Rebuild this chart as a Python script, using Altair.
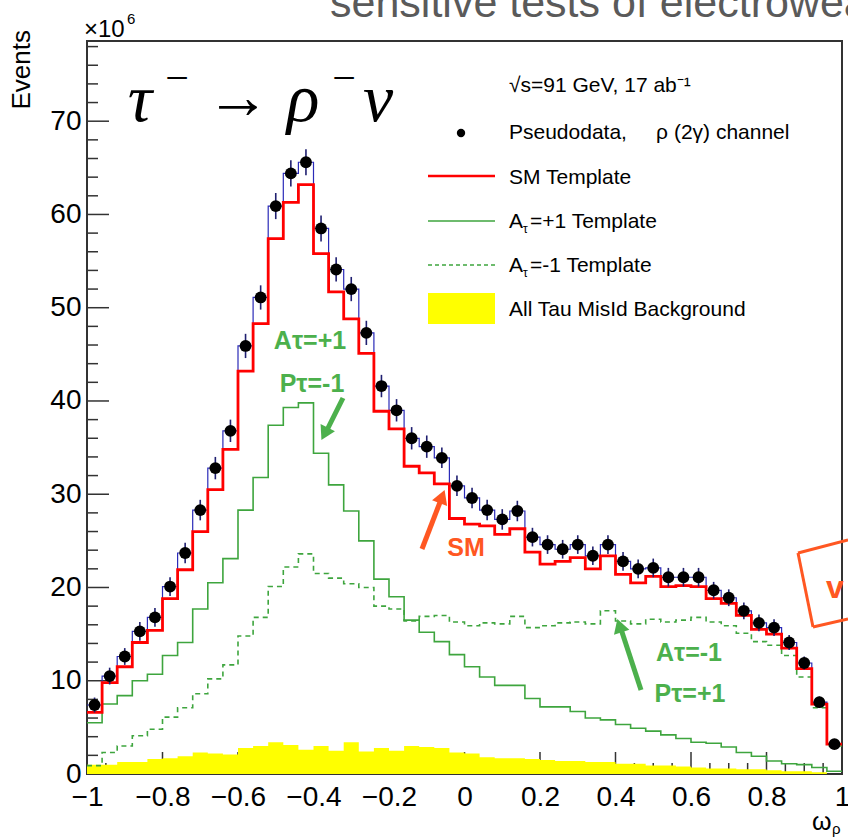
import altair as alt
import pandas as pd

# ---------------- data (values in units of 10^6 events) ----------------
X_MIN, X_MAX = -1.0, 1.0
BIN_W = 0.04
N_BINS = 50
Y_MAX = 78.6

pseudodata = [7.4, 10.5, 12.6, 15.3, 16.8, 20.1, 23.7, 28.3, 32.8, 36.8,
              45.9, 51.1, 60.9, 64.4, 65.6, 58.5, 54.1, 52.0, 47.3, 41.6,
              39.0, 36.0, 35.1, 33.9, 30.9, 29.6, 28.3, 27.3, 28.2, 25.4,
              24.6, 24.1, 24.6, 23.4, 24.6, 22.8, 22.0, 22.1, 21.1, 21.1,
              21.1, 19.7, 18.9, 17.5, 16.2, 15.7, 14.1, 11.9, 7.7, 3.2]
data_err = [0.8, 0.9, 0.9, 1.0, 1.0, 1.0, 1.1, 1.1, 1.2, 1.2,
            1.3, 1.3, 1.4, 1.4, 1.4, 1.4, 1.3, 1.3, 1.3, 1.2,
            1.2, 1.2, 1.2, 1.1, 1.1, 1.1, 1.1, 1.1, 1.1, 1.0,
            1.0, 1.0, 1.0, 1.0, 1.0, 1.0, 1.0, 1.0, 1.0, 1.0,
            1.0, 0.9, 0.9, 0.9, 0.9, 0.9, 0.8, 0.7, 0.6, 0.4]
sm_template = [6.6, 9.8, 11.5, 14.1, 15.4, 18.8, 21.9, 26.0, 30.5, 34.8,
               43.2, 48.3, 57.4, 61.3, 63.2, 55.8, 51.7, 48.8, 45.1, 38.9,
               37.0, 33.0, 32.3, 31.1, 27.4, 26.8, 26.6, 25.7, 26.3, 23.8,
               22.5, 22.8, 23.2, 22.0, 23.4, 21.4, 20.5, 21.2, 20.1, 20.2,
               20.1, 18.8, 18.3, 17.0, 15.5, 15.0, 13.5, 11.3, 7.5, 3.2]
a_plus_template = [5.5, 7.5, 8.4, 10.0, 10.7, 12.7, 14.1, 17.7, 20.5, 23.1,
                   28.3, 31.8, 37.4, 39.3, 39.8, 34.4, 31.0, 28.2, 25.0, 20.9,
                   19.0, 16.5, 15.2, 14.2, 12.8, 11.5, 10.4, 9.5, 9.5, 8.1,
                   7.2, 7.2, 6.7, 6.0, 5.8, 5.3, 4.9, 4.6, 4.2, 3.8,
                   3.4, 3.3, 2.9, 2.3, 1.9, 1.4, 1.1, 1.0, 0.7, 0.3]
a_minus_template = [0.9, 2.3, 3.0, 4.1, 4.8, 6.1, 7.1, 8.6, 10.2, 11.7,
                    14.8, 16.8, 20.1, 22.2, 23.6, 21.5, 21.0, 20.4, 20.0, 18.0,
                    17.7, 16.4, 16.9, 17.0, 16.3, 15.9, 16.2, 16.1, 16.9, 15.7,
                    15.9, 16.2, 16.3, 16.1, 17.5, 16.4, 16.1, 16.6, 16.3, 16.5,
                    16.8, 16.3, 15.9, 15.1, 14.2, 13.8, 12.7, 10.4, 7.1, 3.0]
misid_bkg = [1.0, 1.0, 1.3, 1.3, 1.6, 1.7, 1.9, 2.3, 2.2, 2.1,
             2.8, 3.0, 3.4, 3.1, 2.6, 3.0, 2.5, 3.4, 2.4, 2.8,
             2.5, 3.0, 2.9, 2.8, 2.3, 2.2, 1.8, 1.7, 1.7, 1.6,
             1.5, 1.4, 1.4, 1.3, 1.3, 1.1, 1.1, 0.9, 0.9, 0.8,
             0.7, 0.6, 0.6, 0.5, 0.5, 0.4, 0.3, 0.3, 0.2, 0.0]

x_major = [-1, -0.8, -0.6, -0.4, -0.2, 0, 0.2, 0.4, 0.6, 0.8, 1]
x_minor = [-0.95, -0.9, -0.85, -0.75, -0.7, -0.65, -0.55, -0.5, -0.45,
           -0.35, -0.3, -0.25, -0.15, -0.1, -0.05, 0.05, 0.1, 0.15,
           0.25, 0.3, 0.35, 0.45, 0.5, 0.55, 0.65, 0.7, 0.75, 0.85, 0.9, 0.95]
y_major = [0, 10, 20, 30, 40, 50, 60, 70]
y_minor = [2, 4, 6, 8, 12, 14, 16, 18, 22, 24, 26, 28, 32, 34, 36, 38,
           42, 44, 46, 48, 52, 54, 56, 58, 62, 64, 66, 68, 72, 74, 76, 78]

# ---------------- layout ----------------
L, T = 87, 41          # plot origin in the page
W, H = 755, 733        # plot area
SANS = "Liberation Sans"
SERIF = "Liberation Serif"
FRAME = "#333333"
GREEN = "#3ea53e"
ANN_GREEN = "#4cb04c"
ORANGE = "#ff5722"

left_edges = [round(X_MIN + i * BIN_W, 2) for i in range(N_BINS)]
centers = [round(e + BIN_W / 2, 2) for e in left_edges]

xs = alt.Scale(domain=[X_MIN, X_MAX], nice=False, zero=False)
ys = alt.Scale(domain=[0, Y_MAX], nice=False, zero=False)

X_AXIS = alt.Axis(values=x_major, format="~g", ticks=False, domain=False, grid=False,
                  labelFont=SANS, labelFontSize=28, labelColor="black", labelPadding=9,
                  labelFlush=False, labelOverlap=False, title=None)
Y_AXIS = alt.Axis(values=y_major, format="d", ticks=False, domain=False, grid=False,
                  labelFont=SANS, labelFontSize=28, labelColor="black", labelPadding=6,
                  labelFlush=False, labelOverlap=False, title=None)


def X(field):
    return alt.X(field, scale=xs, axis=X_AXIS)


def Y(field):
    return alt.Y(field, scale=ys, axis=Y_AXIS)


def step_df(vals):
    rows = [{"x": e, "v": v} for e, v in zip(left_edges, vals)]
    rows.append({"x": X_MAX, "v": vals[-1]})
    return pd.DataFrame(rows)


def step_line(vals, color, width, dash=None):
    mk = dict(interpolate="step-after", color=color, strokeWidth=width)
    if dash:
        mk["strokeDash"] = dash
    return alt.Chart(step_df(vals)).mark_line(**mk).encode(x=X("x:Q"), y=Y("v:Q"))


one = pd.DataFrame({"a": [0]})


def txt(s, x, y, size, color="black", font=SANS, weight="normal", style="normal",
        align="left", baseline="alphabetic", angle=None):
    mk = dict(text=s, fontSize=size, color=color, font=font, fontWeight=weight,
              fontStyle=style, align=align, baseline=baseline)
    if angle is not None:
        mk["angle"] = angle
    return alt.Chart(one).mark_text(**mk).encode(x=alt.value(x - L), y=alt.value(y - T))


def seg(x1, y1, x2, y2, color, width, dash=None):
    mk = dict(color=color, strokeWidth=width)
    if dash:
        mk["strokeDash"] = dash
    return alt.Chart(one).mark_rule(**mk).encode(
        x=alt.value(x1 - L), y=alt.value(y1 - T), x2=alt.value(x2 - L), y2=alt.value(y2 - T))


def head(x, y, angle, color, size=260):
    return alt.Chart(one).mark_point(shape="triangle-up", filled=True, color=color, opacity=1,
                                     size=size, angle=angle).encode(
        x=alt.value(x - L), y=alt.value(y - T))


# ---------------- ticks (drawn inside the frame) ----------------
x_ticks_major = alt.Chart(pd.DataFrame({"t": x_major})).mark_rule(color=FRAME, strokeWidth=1.5).encode(
    x=X("t:Q"), y=alt.value(H), y2=alt.value(H - 22))
x_ticks_minor = alt.Chart(pd.DataFrame({"t": x_minor})).mark_rule(color=FRAME, strokeWidth=1.5).encode(
    x=X("t:Q"), y=alt.value(H), y2=alt.value(H - 11))
y_ticks_major = alt.Chart(pd.DataFrame({"t": y_major})).mark_rule(color=FRAME, strokeWidth=1.5).encode(
    y=Y("t:Q"), x=alt.value(0), x2=alt.value(22))
y_ticks_minor = alt.Chart(pd.DataFrame({"t": y_minor})).mark_rule(color=FRAME, strokeWidth=1.5).encode(
    y=Y("t:Q"), x=alt.value(0), x2=alt.value(11))

# ---------------- histograms ----------------
bkg_area = alt.Chart(step_df(misid_bkg)).mark_area(interpolate="step-after", color="#ffff00", opacity=1).encode(
    x=X("x:Q"), y=Y("v:Q"))

green_solid = step_line(a_plus_template, GREEN, 1.6)
green_dash = step_line(a_minus_template, GREEN, 1.6, dash=[5, 4])
blue_line = step_line(pseudodata, "#2b2bb8", 1.2)
red_line = step_line(sm_template, "#ff0000", 2.8)

pts_df = pd.DataFrame({"x": centers, "v": pseudodata, "e": data_err})
pts_df["lo"] = pts_df["v"] - pts_df["e"]
pts_df["hi"] = pts_df["v"] + pts_df["e"]
err_bars = alt.Chart(pts_df).mark_rule(color="#1f1f70", strokeWidth=1.6).encode(
    x=X("x:Q"), y=Y("lo:Q"), y2="hi:Q")
points = alt.Chart(pts_df).mark_circle(color="black", size=140, opacity=1).encode(
    x=X("x:Q"), y=Y("v:Q"))

# ---------------- texts ----------------
texts = [
    # page text clipped at the top
    txt("sensitive tests of electroweak", 330, 17, 43, color="#5a5a5a"),
    # axis titles / exponent
    txt("Events", 22, 30, 26, align="right", baseline="middle", angle=270),
    txt("\u00d710", 84, 37, 24),
    txt("6", 127, 24, 15),
    txt("\u03c9", 812, 830, 25),
    txt("\u03c1", 832, 834, 15),
    # process label
    txt("\u03c4", 140, 121, 68, font=SERIF, style="italic", align="center"),
    txt("\u2212", 177, 92, 42, font=SERIF, align="center"),
    txt("\u2192", 238, 118, 64, font=SERIF, align="center"),
    txt("\u03c1", 303, 121, 68, font=SERIF, style="italic", align="center"),
    txt("\u2212", 344, 92, 42, font=SERIF, align="center"),
    txt("\u03bd", 378, 121, 68, font=SERIF, style="italic", align="center"),
    # legend
    txt("\u221as=91 GeV, 17 ab\u207b\u00b9", 509, 86, 21, baseline="middle"),
    txt("Pseudodata,\u00a0\u00a0\u00a0\u00a0 \u03c1 (2\u03b3) channel", 509, 133, 21, baseline="middle"),
    txt("SM Template", 509, 178, 21, baseline="middle"),
    txt("A", 509, 222, 21, baseline="middle"),
    txt("\u03c4", 523, 229, 12, baseline="middle"),
    txt("=+1 Template", 530, 222, 21, baseline="middle"),
    txt("A", 509, 266, 21, baseline="middle"),
    txt("\u03c4", 523, 273, 12, baseline="middle"),
    txt("=-1 Template", 530, 266, 21, baseline="middle"),
    txt("All Tau MisId Background", 509, 310, 21, baseline="middle"),
    # annotations
    txt("A\u03c4=+1", 310, 341, 25, color=ANN_GREEN, weight="bold", align="center", baseline="middle"),
    txt("P\u03c4=-1", 312, 384, 25, color=ANN_GREEN, weight="bold", align="center", baseline="middle"),
    txt("SM", 466, 548, 25, color=ORANGE, weight="bold", align="center", baseline="middle"),
    txt("A\u03c4=-1", 689, 653, 25, color=ANN_GREEN, weight="bold", align="center", baseline="middle"),
    txt("P\u03c4=+1", 690, 694, 25, color=ANN_GREEN, weight="bold", align="center", baseline="middle"),
    txt("v", 826, 598, 32, color=ORANGE, weight="bold"),
]

shapes = [
    # legend samples
    alt.Chart(one).mark_point(shape="circle", filled=True, color="black", opacity=1, size=70).encode(
        x=alt.value(461 - L), y=alt.value(133 - T)),
    seg(428, 176, 495, 176, "#ff0000", 2.5),
    seg(428, 221, 495, 221, GREEN, 1.6),
    seg(428, 265, 495, 265, GREEN, 1.6, dash=[4, 3]),
    alt.Chart(one).mark_rect(color="#ffff00").encode(
        x=alt.value(428 - L), x2=alt.value(495 - L), y=alt.value(293 - T), y2=alt.value(324 - T)),
    # arrows
    seg(343, 398, 325, 434, ANN_GREEN, 5),
    head(324.6, 433.9, 207, ANN_GREEN),
    seg(422, 549, 442, 497, ORANGE, 5),
    head(442.1, 496.5, 21, ORANGE),
    seg(641, 690, 620, 626, ANN_GREEN, 5),
    head(619.5, 625.6, 342, ANN_GREEN),
    # hand-drawn box at the right edge
    seg(798, 553, 848, 540, ORANGE, 3),
    seg(798, 553, 813, 627, ORANGE, 3),
    seg(813, 627, 848, 619, ORANGE, 3),
]

chart = alt.layer(
    x_ticks_major, x_ticks_minor, y_ticks_major, y_ticks_minor,
    bkg_area, green_solid, green_dash, blue_line, red_line, err_bars, points,
    *shapes, *texts
).properties(
    width=W, height=H,
    autosize=alt.AutoSizeParams(type="none"),
    padding={"left": L, "top": T, "right": 848 - L - W, "bottom": 838 - T - H},
    background="white",
).configure_view(stroke=FRAME, strokeWidth=2)

chart.save("out.html", embed_options={"renderer": "svg", "actions": False})
